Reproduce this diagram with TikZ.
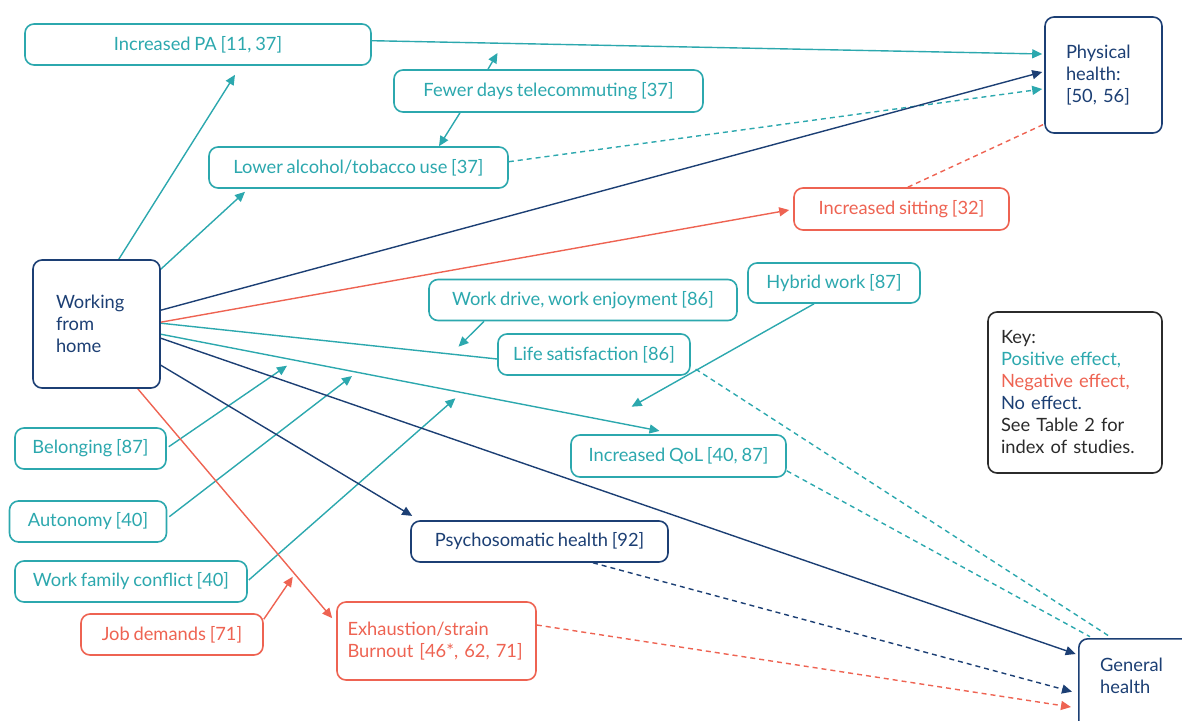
\documentclass[tikz,border=0pt]{standalone}
\usepackage{fontspec}
\setmainfont{Lato}[WordSpace=0.8]
\usetikzlibrary{arrows.meta,backgrounds}
\definecolor{cpos}{HTML}{2CA8AE}
\definecolor{cneg}{HTML}{EE6352}
\definecolor{cnone}{HTML}{1C3F74}
\definecolor{ckey}{HTML}{2B2B2B}
\begin{document}
\begin{tikzpicture}[x=1pt,y=-1pt,
  txt/.style={font=\fontsize{18.3}{22}\selectfont},
  box/.style={txt, draw, rounded corners=9pt, line width=1.6pt, fill=white, inner sep=0pt, align=center},
  posbox/.style={box, draw=cpos, text=cpos},
  negbox/.style={box, draw=cneg, text=cneg},
  nonebox/.style={box, draw=cnone, text=cnone},
  keybox/.style={box, draw=ckey, text=ckey},
  plain/.style={line width=1.4pt},
  link/.style={plain, -{Triangle[length=10pt,width=9pt]}},
  dplain/.style={plain, dash pattern=on 5pt off 4pt},
  dlink/.style={link, dash pattern=on 5pt off 4pt},
]
\useasboundingbox (0,0) rectangle (1182,720);

% boxes
\node[posbox, minimum width=346, minimum height=41] (pa) at (198,44.5) {Increased PA [11, 37]};
\node[posbox, minimum width=309, minimum height=42] (fewer) at (548.5,91) {Fewer days telecommuting [37]};
\node[posbox, minimum width=299, minimum height=41] (lower) at (358.5,167.5) {Lower alcohol/tobacco use [37]};
\node[nonebox, text width=75, inner xsep=21, minimum height=116, align=left] (phys) at (1103.5,75) {Physical\\health:\\{[50, 56]}};
\node[negbox, minimum width=215, minimum height=42] (sit) at (901.5,209) {Increased sitting [32]};
\node[nonebox, text width=81, inner xsep=23, minimum height=128, align=left] (wfh) at (96.5,324) {Working\\from\\home};
\node[posbox, minimum width=308, minimum height=41] (drive) at (583,300) {Work drive, work enjoyment [86]};
\node[posbox, minimum width=172, minimum height=40] (hybrid) at (834,283) {Hybrid work [87]};
\node[posbox, minimum width=192, minimum height=41] (life) at (594,354.5) {Life satisfaction [86]};
\node[keybox, text width=148, inner xsep=13, minimum height=161, align=left] (key) at (1075,392.5)
  {Key:\\\textcolor{cpos}{Positive effect,}\\\textcolor{cneg}{Negative effect,}\\\textcolor{cnone}{No effect.}\\See Table 2 for\\index of studies.};
\node[posbox, minimum width=215, minimum height=42] (qol) at (678.5,456) {Increased QoL [40, 87]};
\node[posbox, minimum width=151, minimum height=41] (belong) at (90.5,448.5) {Belonging [87]};
\node[posbox, minimum width=157, minimum height=41] (auton) at (88,521.5) {Autonomy [40]};
\node[posbox, minimum width=232, minimum height=41] (wfc) at (131,581.5) {Work family conflict [40]};
\node[nonebox, minimum width=257, minimum height=41] (psycho) at (539.5,541.5) {Psychosomatic health [92]};
\node[negbox, minimum width=182, minimum height=41] (job) at (172,634.5) {Job demands [71]};
\node[negbox, text width=178, inner xsep=10.5, minimum height=78, align=left] (exh) at (436.5,641) {Exhaustion/strain\\Burnout [46*, 62, 71]};
\node[nonebox, anchor=north west, minimum width=140, minimum height=120] (gen) at (1078,638) {};
\node[txt, text=cnone, anchor=north west, inner sep=0pt, align=left] (gentext) at (1100,657.5) {General\\health};

% points on the links that the moderating factors act on
\coordinate (mPA) at (497.5,53);
\coordinate (mLife) at (458.5,346.7);
\coordinate (mQoL) at (631.6,406.7);
\coordinate (mBel) at (287,365.7);
\coordinate (mAut) at (352,376);
\coordinate (mWfc) at (455.4,398.3);
\coordinate (mJob) at (292.8,576.7);

\begin{scope}[on background layer]
% positive effects
\draw[link,cpos] ([xshift=-42pt]wfh.north east) -- ([xshift=37pt,yshift=-9pt]pa.south);
\draw[link,cpos] ([yshift=-10pt]wfh.north east) -- ([xshift=-113.5pt,yshift=-3pt]lower.south);
\draw[link,cpos] ([xshift=-60.5pt]fewer.north) -- (mPA);
\draw[link,cpos] ([xshift=-88.5pt]fewer.south) -- ([xshift=80.5pt]lower.north);
\draw[link,cpos] ([yshift=3.8pt]pa.east) -- ([xshift=-2pt,yshift=21pt]phys.west);
\draw[dlink,cpos] ([yshift=5.8pt]lower.east) -- ([xshift=-2pt,yshift=-14pt]phys.west);
\draw[plain,cpos] ([yshift=-64pt]wfh.north east) -- ([yshift=-4.5pt]life.west);
\draw[link,cpos] ([xshift=-99pt]drive.south) -- (mLife);
\draw[link,cpos] ([xshift=-20pt]hybrid.south) -- (mQoL);
\draw[link,cpos] ([yshift=-75pt]wfh.north east) -- ([xshift=-19pt,yshift=3.3pt]qol.north);
\draw[link,cpos] ([xshift=2pt,yshift=1.8pt]belong.east) -- (mBel);
\draw[link,cpos] ([xshift=2pt,yshift=4.8pt]auton.east) -- (mAut);
\draw[link,cpos] ([xshift=1pt,yshift=1.5pt]wfc.east) -- (mWfc);
\draw[dplain,cpos] ([xshift=4.8pt,yshift=6.7pt]life.south east) -- ([xshift=32pt,yshift=1.3pt]gen.north west);
\draw[dplain,cpos] ([yshift=7pt]qol.south east) -- ([xshift=12pt,yshift=1.3pt]gen.north west);
% negative effects
\draw[link,cneg] ([yshift=-63pt]wfh.north east) -- ([xshift=-4pt,yshift=-1pt]sit.west);
\draw[dplain,cneg] ([xshift=6.3pt]sit.north) -- ([yshift=9.7pt]phys.south west);
\draw[link,cneg] ([xshift=-23pt]wfh.south east) -- ([xshift=-4pt,yshift=-17pt]exh.north west);
\draw[link,cneg] ([yshift=-6pt]job.north east) -- (mJob);
\draw[dlink,cneg] ([yshift=16pt]exh.east) -- ([xshift=-7pt,yshift=-69pt]gen.north west);
% no effect
\draw[link,cnone] ([yshift=-51pt]wfh.north east) -- ([xshift=-2pt,yshift=3pt]phys.west);
\draw[link,cnone] ([yshift=-79pt]wfh.north east) -- ([xshift=-2.3pt,yshift=-16pt]gen.north west);
\draw[link,cnone] ([yshift=-106pt]wfh.north east) -- ([xshift=2pt,yshift=4.3pt]psycho.north west);
\draw[dlink,cnone] ([xshift=53.5pt]psycho.south) -- ([xshift=-6pt,yshift=-53.7pt]gen.north west);
\end{scope}
\end{tikzpicture}
\end{document}
